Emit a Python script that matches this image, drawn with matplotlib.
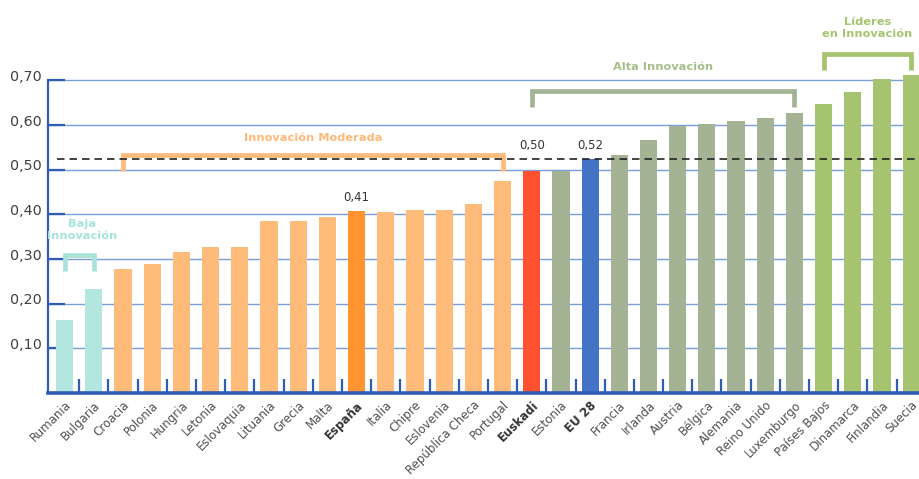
import matplotlib
matplotlib.use("Agg")
import matplotlib.pyplot as plt
import matplotlib.transforms as mtransforms
import numpy as np


COUNTRIES = [
    "Rumania", "Bulgaria", "Croacia", "Polonia", "Hungria", "Letonia", "Eslovaquia",
    "Lituania", "Grecia", "Malta", "España", "Italia", "Chipre", "Eslovenia",
    "República Checa", "Portugal", "Euskadi", "Estonia", "EU 28", "Francia", "Irlanda",
    "Austria", "Bélgica", "Alemania", "Reino Unido", "Luxemburgo", "Países Bajos",
    "Dinamarca", "Finlandia", "Suecia",
]
VALUES = [
    0.163, 0.232, 0.277, 0.289, 0.315, 0.327, 0.327, 0.386, 0.386, 0.394, 0.408,
    0.406, 0.410, 0.409, 0.423, 0.474, 0.497, 0.497, 0.524, 0.532, 0.566, 0.597,
    0.602, 0.609, 0.616, 0.627, 0.647, 0.675, 0.702, 0.711,
]
GROUPS = ["baja"] * 2 + ["moderada"] * 14 + ["alta"] * 10 + ["lideres"] * 4
HIGHLIGHT = ["España", "Euskadi", "EU 28"]
EU_AVERAGE = 0.524

GROUP_NAMES = ["Baja\nInnovación", "Innovación Moderada", "Alta Innovación", "Líderes\nen Innovación"]
GROUP_KEYS = ["baja", "moderada", "alta", "lideres"]
Y_TICKS = [0.1, 0.2, 0.3, 0.4, 0.5, 0.6, 0.7]

BAR_COLORS = {"baja": "#b3e6df", "moderada": "#ffbb7a", "alta": "#a4b394", "lideres": "#a6c46f"}
SPECIAL_COLORS = {"España": "#ff9430", "Euskadi": "#ff5030", "EU 28": "#4472c4"}
TEXT_COLORS = {"baja": "#a8e2da", "moderada": "#ffb877", "alta": "#a6bf88", "lideres": "#a6c46f"}
BLUE = "#2f5db5"


def bar_color(name, group):
    return SPECIAL_COLORS.get(name, BAR_COLORS[group])


def main():
    fig = plt.figure(figsize=(9.2, 4.79), dpi=100)
    ax = fig.add_axes([47.7 / 920, 86 / 479, 1 - 47.7 / 920, 393 / 479])
    x = np.arange(len(COUNTRIES))

    for y in Y_TICKS:
        ax.axhline(y, color="#7a9ddc", lw=1.0, zorder=1)

    ax.bar(x, VALUES, width=0.59, color=[bar_color(c, g) for c, g in zip(COUNTRIES, GROUPS)], zorder=2)

    # media EU 28
    ax.plot([-0.26, 29.4], [EU_AVERAGE, EU_AVERAGE], color="#222222", lw=1.2,
            dashes=(4.5, 3), zorder=5)

    # etiquetas de valor
    for name in HIGHLIGHT:
        i = COUNTRIES.index(name)
        v = VALUES[i]
        ax.text(i, max(v, EU_AVERAGE if name != "España" else v) + 0.03, f"{v:.2f}".replace(".", ","),
                ha="center", va="center", fontsize=8.4, color="#333333", zorder=6)

    # corchetes de grupo
    bracket_y = [0.31, 0.532, 0.676, 0.76]
    text_y = [0.365, 0.572, 0.730, 0.818]
    for key, label, by, ty in zip(GROUP_KEYS, GROUP_NAMES, bracket_y, text_y):
        idx = [i for i, g in enumerate(GROUPS) if g == key]
        x0, x1 = idx[0], idx[-1]
        drop = 0.036
        ax.plot([x0, x0, x1, x1], [by - drop, by, by, by - drop], color=BAR_COLORS[key]
                if key != "baja" else "#a8e2da", lw=3.4, solid_joinstyle="miter",
                solid_capstyle="butt", zorder=4)
        ax.text((x0 + x1) / 2 + (0.1 if key == "baja" else 0), ty, label, ha="center",
                va="center", fontsize=8.2, fontweight="bold", color=TEXT_COLORS[key],
                linespacing=1.25, zorder=6)

    ax.set_xlim(-0.58, 29.3)
    ax.set_ylim(0, 0.88)

    for side in ["top", "right"]:
        ax.spines[side].set_visible(False)
    ax.spines["left"].set_bounds(0, 0.7)
    ax.spines["left"].set_color(BLUE)
    ax.spines["left"].set_linewidth(1.6)
    ax.spines["bottom"].set_color(BLUE)
    ax.spines["bottom"].set_linewidth(2.6)
    ax.spines["bottom"].set_zorder(7)

    ax.set_yticks(Y_TICKS)
    ax.set_yticklabels([f"{t:.2f}".replace(".", ",") for t in Y_TICKS])
    ax.tick_params(axis="y", direction="in", length=12, width=1.6, color=BLUE,
                   labelsize=10.3, labelcolor="#404040", pad=4)
    offset = mtransforms.ScaledTranslation(0, 5 / 100, fig.dpi_scale_trans)
    for lab in ax.get_yticklabels():
        lab.set_transform(lab.get_transform() + offset)

    ax.set_xticks(x)
    ax.set_xticklabels(COUNTRIES, rotation=45, ha="right", rotation_mode="anchor")
    ax.tick_params(axis="x", which="major", length=0, labelsize=8.5, labelcolor="#505050", pad=4)
    ax.set_xticks(x[:-1] + 0.5, minor=True)
    ax.tick_params(axis="x", which="minor", direction="in", length=10, width=1.6, color=BLUE)
    for lab in ax.get_xticklabels():
        if lab.get_text() in HIGHLIGHT:
            lab.set_fontweight("bold")
            lab.set_color("#333333")

    fig.savefig("out.png", dpi=100)
    plt.close(fig)


if __name__ == "__main__":
    main()
